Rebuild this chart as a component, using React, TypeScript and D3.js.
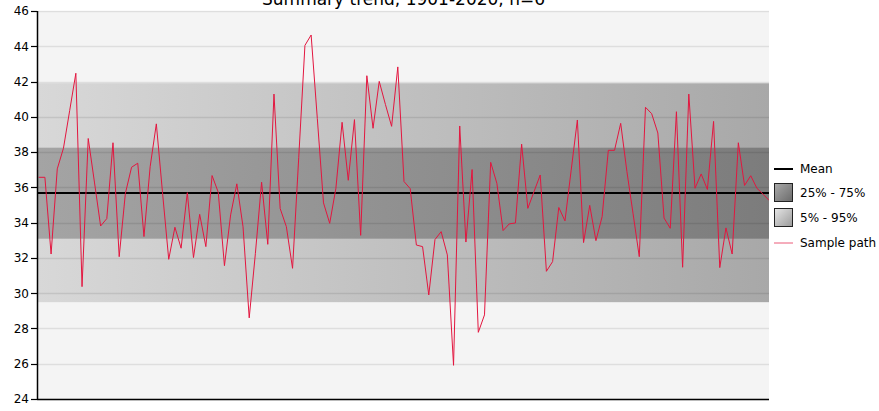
import React from "react";
import * as d3 from "d3";

const title = "Summary trend, 1901-2020, n=6";
const yTicks = [24, 26, 28, 30, 32, 34, 36, 38, 40, 42, 44, 46];
const meanValue = 35.68;
const band25 = 33.09;
const band75 = 38.25;
const band05 = 29.49;
const band95 = 41.9;
const legendLabels = ["Mean", "25% - 75%", "5% - 95%", "Sample path"];
const samplePath = [
  36.57, 36.57, 32.22, 37.05, 38.22, 40.35, 42.47, 30.37, 38.77, 36.3,
  33.81, 34.23, 38.53, 32.07, 35.66, 37.14, 37.37, 33.21, 37.17, 39.6,
  35.7, 31.92, 33.74, 32.55, 35.7, 32.02, 34.47, 32.64, 36.67, 35.72,
  31.56, 34.44, 36.2, 33.77, 28.6, 32.26, 36.29, 32.77, 41.29, 34.8,
  33.77, 31.41, 37.7, 44.05, 44.64, 39.9, 35.12, 33.96, 35.95, 39.69,
  36.4, 39.84, 33.28, 42.33, 39.35, 42.01, 40.7, 39.46, 42.83, 36.33,
  35.93, 32.73, 32.64, 29.9, 33.04, 33.49, 32.17, 25.91, 39.48, 32.9,
  37.01, 27.78, 28.77, 37.42, 36.23, 33.55, 33.93, 33.98, 38.45, 34.81,
  35.76, 36.7, 31.24, 31.79, 34.86, 34.1, 36.97, 39.82, 32.87, 34.98,
  32.98, 34.34, 38.1, 38.1, 39.63, 36.9, 34.5, 32.07, 40.54, 40.18,
  39.08, 34.26, 33.68, 40.29, 31.47, 41.29, 35.95, 36.76, 35.88, 39.74,
  31.45, 33.7, 32.22, 38.53, 36.11, 36.66, 35.95, 35.61, 35.25,
];

const W = 879;
const H = 411;
const left = 38;
const right = 769;
const top = 11;
const bottom = 399;
const FONT = "DejaVu Sans, Verdana, sans-serif";

export default function App() {
  const x = d3
    .scaleLinear()
    .domain([0, samplePath.length - 1])
    .range([left + 0.7, right + 0.3]);
  const y = d3.scaleLinear().domain([24, 46]).range([bottom, top]);
  const line = d3
    .line<number>()
    .x((_, i) => x(i))
    .y((d) => y(d));

  const legendX = 774;
  const legendY = [169, 193, 218, 243];

  return (
    <svg
      width={W}
      height={H}
      style={{ position: "absolute", left: 0, top: 0, background: "#fff" }}
      fontFamily={FONT}
    >
      <defs>
        <linearGradient id="g95" x1="0" y1="0" x2="1" y2="0">
          <stop offset="0" stopColor="#d8d8d8" />
          <stop offset="1" stopColor="#a8a8a8" />
        </linearGradient>
        <linearGradient id="g75" x1="0" y1="0" x2="1" y2="0">
          <stop offset="0" stopColor="#a4a4a4" />
          <stop offset="1" stopColor="#7c7c7c" />
        </linearGradient>
        <linearGradient id="l95" x1="0" y1="0" x2="1" y2="1">
          <stop offset="0" stopColor="#e6e6e6" />
          <stop offset="1" stopColor="#9a9a9a" />
        </linearGradient>
        <linearGradient id="l75" x1="0" y1="0" x2="1" y2="1">
          <stop offset="0" stopColor="#aaaaaa" />
          <stop offset="1" stopColor="#6a6a6a" />
        </linearGradient>
        <clipPath id="plotClip">
          <rect x={left} y={top} width={right - left} height={bottom - top} />
        </clipPath>
      </defs>

      <text
        x={(left + right) / 2}
        y={4.5}
        textAnchor="middle"
        fontSize={17}
        fill="#000"
      >
        {title}
      </text>

      <rect x={left} y={top} width={right - left} height={bottom - top} fill="#f4f4f4" />

      <rect
        x={left}
        y={y(band95)}
        width={right - left}
        height={y(band05) - y(band95)}
        fill="url(#g95)"
      />
      <rect
        x={left}
        y={y(band75)}
        width={right - left}
        height={y(band25) - y(band75)}
        fill="url(#g75)"
      />

      {yTicks.map((t) => (
        <line
          key={"g" + t}
          x1={left}
          x2={right}
          y1={Math.round(y(t)) + 0.5}
          y2={Math.round(y(t)) + 0.5}
          stroke="#000"
          strokeOpacity={0.09}
          strokeWidth={1.5}
        />
      ))}

      <line
        x1={left}
        x2={right}
        y1={y(meanValue)}
        y2={y(meanValue)}
        stroke="#000"
        strokeWidth={2}
      />

      <path
        d={line(samplePath) || ""}
        fill="none"
        stroke="#e3163f"
        strokeWidth={1}
        clipPath="url(#plotClip)"
      />

      {/* axes */}
      <line x1={left - 0.5} x2={left - 0.5} y1={top} y2={bottom + 1} stroke="#000" strokeWidth={1.5} />
      <line x1={left - 1} x2={right} y1={bottom + 0.5} y2={bottom + 0.5} stroke="#000" strokeWidth={1.5} />
      {yTicks.map((t) => (
        <g key={"t" + t}>
          <line
            x1={left - 7}
            x2={left - 1}
            y1={Math.round(y(t)) + 0.5}
            y2={Math.round(y(t)) + 0.5}
            stroke="#000"
            strokeWidth={1.2}
          />
          <text
            x={left - 9}
            y={y(t)}
            dy="0.36em"
            textAnchor="end"
            fontSize={12}
            fill="#000"
          >
            {t}
          </text>
        </g>
      ))}

      {/* legend */}
      <line
        x1={legendX}
        x2={legendX + 19}
        y1={legendY[0]}
        y2={legendY[0]}
        stroke="#000"
        strokeWidth={2}
      />
      <rect
        x={legendX + 0.5}
        y={legendY[1] - 9.5}
        width={18}
        height={18}
        fill="url(#l75)"
        stroke="#222"
        strokeWidth={1}
      />
      <rect
        x={legendX + 0.5}
        y={legendY[2] - 9.5}
        width={18}
        height={18}
        fill="url(#l95)"
        stroke="#222"
        strokeWidth={1}
      />
      <line
        x1={legendX}
        x2={legendX + 19}
        y1={legendY[3]}
        y2={legendY[3]}
        stroke="#e3163f"
        strokeOpacity={0.7}
        strokeWidth={1}
      />
      {legendLabels.map((l, i) => (
        <text
          key={l}
          x={800}
          y={legendY[i]}
          dy="0.36em"
          fontSize={12}
          fill="#000"
        >
          {l}
        </text>
      ))}
    </svg>
  );
}
